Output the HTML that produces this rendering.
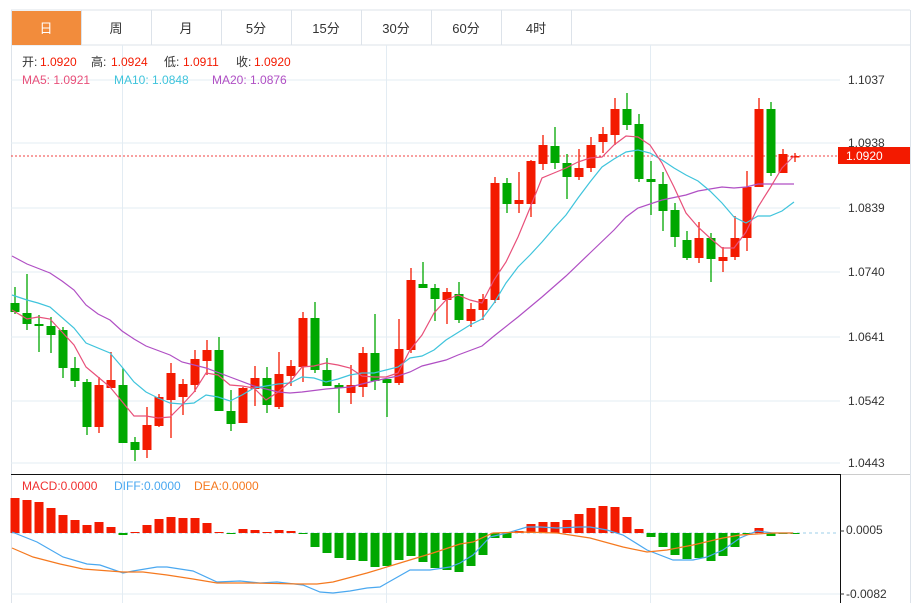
<!DOCTYPE html>
<html><head><meta charset="utf-8"><style>
body{margin:0;background:#fff;width:919px;height:603px;overflow:hidden;font-family:"Liberation Sans","Noto Sans CJK SC",sans-serif;}
svg{position:absolute;left:0;top:0}
</style></head><body>
<svg id="s" width="919" height="603" xmlns="http://www.w3.org/2000/svg" font-family="Liberation Sans, Noto Sans CJK SC, sans-serif">
<rect x="0" y="0" width="919" height="603" fill="#fff"/>
<line x1="11" y1="10" x2="910" y2="10" stroke="#dde3ea"/>
<line x1="11" y1="45" x2="910" y2="45" stroke="#dde3ea"/>
<line x1="11.5" y1="10" x2="11.5" y2="603" stroke="#dde3ea"/>
<line x1="910.5" y1="10" x2="910.5" y2="603" stroke="#dde3ea"/>
<rect x="12" y="11" width="69" height="34" fill="#f28c3c"/>
<g stroke="#dde3ea"><line x1="81.5" y1="10" x2="81.5" y2="45"/><line x1="151.5" y1="10" x2="151.5" y2="45"/><line x1="221.5" y1="10" x2="221.5" y2="45"/><line x1="291.5" y1="10" x2="291.5" y2="45"/><line x1="361.5" y1="10" x2="361.5" y2="45"/><line x1="431.5" y1="10" x2="431.5" y2="45"/><line x1="501.5" y1="10" x2="501.5" y2="45"/><line x1="571.5" y1="10" x2="571.5" y2="45"/></g>
<g font-size="13" text-anchor="middle" fill="#333"><text x="46" y="33" fill="#fff">日</text><text x="116" y="33">周</text><text x="186" y="33">月</text><text x="256" y="33">5分</text><text x="326" y="33">15分</text><text x="396" y="33">30分</text><text x="466" y="33">60分</text><text x="536" y="33">4时</text></g>
<g stroke="#e3ecf3"><line x1="11" y1="80" x2="840" y2="80"/><line x1="11" y1="143" x2="840" y2="143"/><line x1="11" y1="208" x2="840" y2="208"/><line x1="11" y1="272" x2="840" y2="272"/><line x1="11" y1="337" x2="840" y2="337"/><line x1="11" y1="401" x2="840" y2="401"/><line x1="11" y1="463" x2="840" y2="463"/><line x1="122.5" y1="45" x2="122.5" y2="603"/><line x1="386.5" y1="45" x2="386.5" y2="603"/><line x1="650.5" y1="45" x2="650.5" y2="603"/><line x1="11" y1="594" x2="840" y2="594"/></g>
<line x1="11" y1="474.5" x2="840" y2="474.5" stroke="#111"/>
<line x1="840" y1="474.5" x2="910" y2="474.5" stroke="#ccc"/>
<line x1="840.5" y1="474" x2="840.5" y2="603" stroke="#111"/>
<g font-size="12" fill="#333"><text x="848" y="84">1.1037</text><text x="848" y="147">1.0938</text><text x="848" y="212">1.0839</text><text x="848" y="276">1.0740</text><text x="848" y="341">1.0641</text><text x="848" y="405">1.0542</text><text x="848" y="467">1.0443</text><text x="846" y="534">0.0005</text><text x="846" y="598">-0.0082</text></g>
<g stroke="#333"><line x1="840" y1="531" x2="844" y2="531"/><line x1="840" y1="594" x2="844" y2="594"/></g>
<line x1="11" y1="156" x2="838" y2="156" stroke="#f04040" stroke-dasharray="2,2"/>
<rect x="838" y="147" width="72" height="17" fill="#f31a00"/>
<text x="846" y="160" font-size="12" fill="#fff">1.0920</text>
<g font-size="12"><text x="22" y="66" fill="#333">开:</text><text x="40" y="66" fill="#f31a00">1.0920</text><text x="91" y="66" fill="#333">高:</text><text x="111" y="66" fill="#f31a00">1.0924</text><text x="164" y="66" fill="#333">低:</text><text x="183" y="66" fill="#f31a00">1.0911</text><text x="236" y="66" fill="#333">收:</text><text x="254" y="66" fill="#f31a00">1.0920</text>
<text x="22" y="84" fill="#e8507a">MA5: 1.0921</text><text x="114" y="84" fill="#3fc4dc">MA10: 1.0848</text><text x="212" y="84" fill="#b04fc4">MA20: 1.0876</text>
<text x="22" y="490" fill="#f03030">MACD:0.0000</text><text x="114" y="490" fill="#4aa8f0">DIFF:0.0000</text><text x="194" y="490" fill="#f5791f">DEA:0.0000</text></g>
<line x1="11" y1="533" x2="838" y2="533" stroke="#9ccfea" stroke-dasharray="3,3"/>
<g id="c"></g>
<polyline fill="none" stroke="#b04fc4" stroke-width="1.2" points="12,256 27,264 50,273 62,281 74,290 86,305 98,314 110,320 122,331 134,339 146,346 170,355 182,362 206,368 230,377 254,386 278,392 290,393 302,392 326,389 350,387 362,384 374,381 398,376 410,372 422,366 446,360 458,355 482,346 494,336 518,317 542,297 566,276 590,253 614,230 626,217 638,208 662,200 686,195 698,191 722,187 734,188 746,187 758,184 794,184"/>
<polyline fill="none" stroke="#3fc4dc" stroke-width="1.2" points="12,295 27,300 38,303 50,307 74,328 86,343 110,353 122,367 134,382 146,392 158,398 170,403 182,404 194,403 206,395 218,397 230,401 242,395 254,388 266,386 278,384 290,383 302,377 314,378 326,382 338,379 350,375 362,373 374,373 386,370 398,367 410,358 422,356 434,350 446,340 470,325 482,319 494,303 506,283 518,267 530,255 542,242 554,228 566,215 578,198 590,182 602,167 614,159 626,152 638,150 650,153 662,160 674,168 686,175 698,181 710,191 722,203 734,217 746,223 758,216 770,216 782,211 794,202"/>
<polyline fill="none" stroke="#e8507a" stroke-width="1.2" points="12,310 27,319 38,317 50,319 74,345 86,367 98,377 110,387 134,416 146,416 158,418 170,417 182,405 194,392 206,373 218,375 230,385 242,386 254,388 266,400 278,392 290,382 302,367 314,366 326,363 338,365 350,368 362,376 374,377 386,377 398,373 410,350 422,335 434,313 446,300 458,295 470,300 482,303 494,280 506,262 518,237 530,208 542,178 554,173 566,168 578,162 590,158 602,157 614,145 626,136 638,137 650,145 662,163 674,187 686,213 698,227 710,238 722,248 734,248 746,232 758,207 770,188 782,168 794,156"/>
<polyline fill="none" stroke="#4aa8f0" stroke-width="1.2" points="12,532 37,542 63,557 87,564 100,565 123,573 133,571 157,567 167,567 193,571 217,582 240,581 260,583 277,582 303,585 320,592 333,593 350,591 367,588 380,587 387,583 410,570 430,570 450,567 460,563 473,555 490,537 507,533 527,527 540,527 557,528 580,527 590,527 607,530 623,535 647,550 673,560 693,560 707,557 723,550 740,538 757,531 773,533 793,533"/>
<polyline fill="none" stroke="#f5791f" stroke-width="1.2" points="12,548 33,557 60,564 83,569 123,572 143,572 167,575 193,579 217,583 250,583 300,584 317,584 333,582 367,573 400,563 433,553 460,544 473,542 493,533 523,532 557,533 590,538 623,547 647,552 667,550 693,545 723,538 740,535 773,533 793,533"/>
</svg>
<script>
var C=[[303,312,287,314,0],[313,324,274,330,0],[324,326,315,352,0],[326,335,317,353,0],[330,368,327,378,0],[368,381,357,387,0],[382,427,379,435,0],[427,385,377,433,1],[388,380,352,388,1],[385,443,368,443,0],[442,450,437,461,0],[450,425,407,458,1],[426,397,394,427,1],[400,373,363,438,1],[397,384,379,415,1],[385,359,350,392,1],[361,350,340,375,1],[350,411,337,411,0],[411,424,390,431,0],[423,388,387,423,1],[389,378,366,406,1],[378,405,367,413,0],[407,374,352,409,1],[376,366,360,386,1],[367,318,312,382,1],[318,370,302,373,0],[370,386,358,386,0],[385,388,383,413,0],[393,385,365,404,1],[387,353,347,397,1],[353,381,314,390,0],[379,383,379,417,0],[383,349,319,385,1],[350,280,268,353,1],[284,288,262,288,0],[288,299,284,321,0],[300,292,288,324,1],[294,320,282,323,0],[321,309,303,327,1],[310,299,294,320,1],[300,183,177,303,1],[183,204,178,213,0],[204,200,172,213,1],[204,161,160,217,1],[164,145,135,170,1],[146,163,127,169,0],[163,177,154,199,0],[177,168,149,180,1],[168,145,137,172,1],[142,134,127,153,1],[135,109,98,145,1],[109,125,93,130,0],[124,179,114,182,0],[179,182,161,215,0],[184,211,172,231,0],[210,237,203,247,0],[240,258,231,260,0],[258,238,222,263,1],[238,259,233,282,0],[261,257,247,272,1],[257,238,216,260,1],[238,187,171,251,1],[187,109,98,187,1],[109,173,102,176,0],[173,154,149,173,1],[157,156,153,162,1]];
var M=[498,500,502,508,515,520,525,522,527,535,532,525,519,517,518,518,523,532,533,529,530,532,530,531,533,547,553,558,560,561,567,566,560,556,562,568,570,572,566,555,538,538,531,524,522,522,520,514,508,506,507,517,529,537,547,555,559,558,561,556,547,534,528,536,534,533];
var s='',R='#f31a00',G='#00a800';
for(var i=0;i<C.length;i++){var c=C[i],x=15+12*i,col=c[4]?R:G,t=Math.min(c[0],c[1]),h=Math.max(1.5,Math.abs(c[0]-c[1]));
s+='<line x1="'+x+'" y1="'+c[2]+'" x2="'+x+'" y2="'+c[3]+'" stroke="'+col+'" stroke-width="1.3"/>';
s+='<rect x="'+(x-4.5)+'" y="'+t+'" width="9" height="'+h+'" fill="'+col+'"/>';}
for(var i=0;i<M.length;i++){var x=15+12*i,y=M[i],t=Math.min(y,533),h=Math.max(1,Math.abs(y-533));
s+='<rect x="'+(x-4.5)+'" y="'+t+'" width="9" height="'+h+'" fill="'+(y<533?R:G)+'"/>';}
document.getElementById('c').innerHTML=s;
</script>
</body></html>
